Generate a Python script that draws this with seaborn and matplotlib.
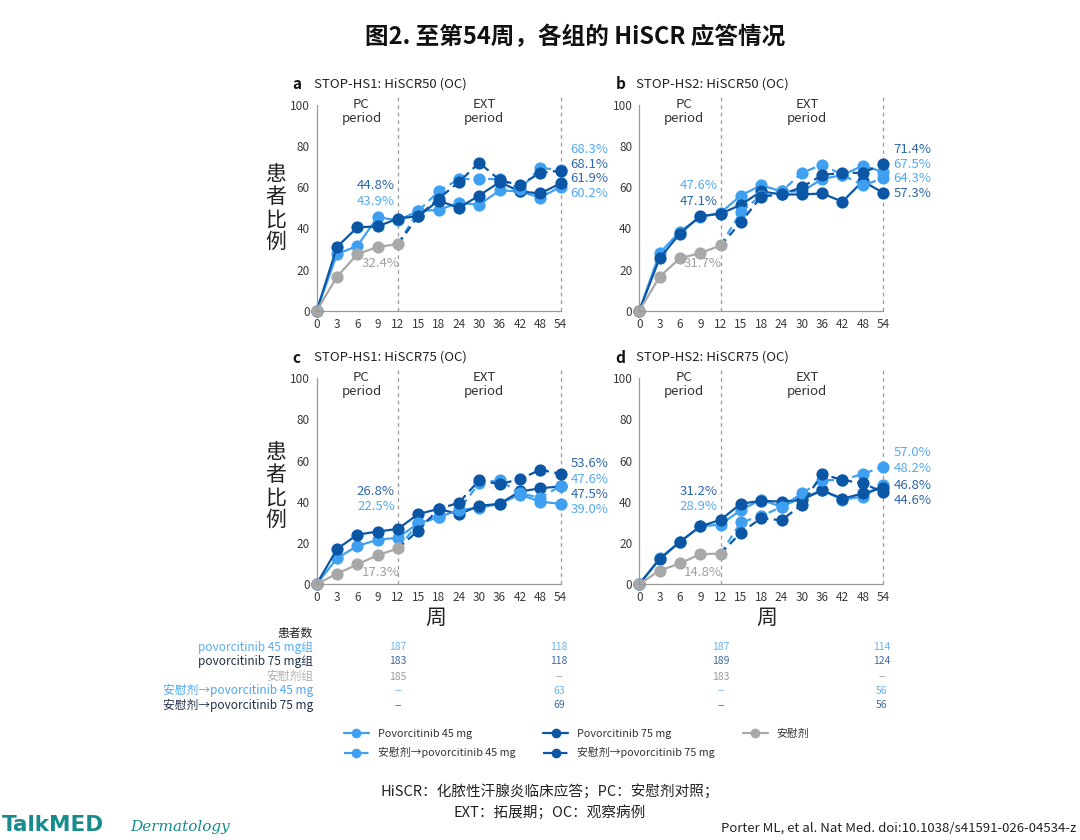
import matplotlib
matplotlib.use("Agg")
import matplotlib.pyplot as plt
from matplotlib.lines import Line2D
import seaborn as sns
import numpy as np

sns.set_theme(style="white")
plt.rcParams['font.family'] = ['Noto Sans CJK SC', 'DejaVu Sans']
plt.rcParams['axes.unicode_minus'] = False

# ---------------- data ----------------
weeks = ["0", "3", "6", "9", "12", "15", "18", "24", "30", "36", "42", "48", "54"]
ext_weeks = ["12", "15", "18", "24", "30", "36", "42", "48", "54"]
pc_weeks = ["0", "3", "6", "9", "12"]

# a: STOP-HS1 HiSCR50
a_45 = [0, 27.5, 31.5, 45.5, 43.9, 48.5, 49, 52.5, 51.5, 58.5, 58, 55, 60.2]
a_75 = [0, 31, 40.5, 41, 44.8, 46, 53.5, 50, 56, 62.5, 58, 57, 61.9]
a_pbo = [0, 16.5, 27.5, 31, 32.4]
a_p45 = [32.4, 48.5, 58, 64, 64, 64, 59, 69.5, 68.3]
a_p75 = [32.4, 46, 54.5, 62.5, 72, 63.5, 61, 67, 68.1]

# b: STOP-HS2 HiSCR50
b_45 = [0, 28, 38.5, 45.5, 47.6, 56, 61, 58, 58, 64, 66, 70.5, 67.5]
b_75 = [0, 25.5, 37.5, 46, 47.1, 51.5, 58, 56.5, 56.5, 57, 53, 63, 57.3]
b_pbo = [0, 16.5, 25.5, 28, 31.7]
b_p45 = [31.7, 48, 56, 58, 67, 71, 66, 61, 64.3]
b_p75 = [31.7, 43, 55.5, 56.5, 60, 66, 67, 67, 71.4]

# c: STOP-HS1 HiSCR75
c_45 = [0, 12.5, 18.5, 21.5, 22.5, 29.5, 32.5, 36, 37, 39, 43.5, 40, 39.0]
c_75 = [0, 17, 24, 25.5, 26.8, 34, 36.5, 34, 38, 39, 45, 46.5, 47.5]
c_pbo = [0, 5, 9.5, 14, 17.3]
c_p45 = [17.3, 29.5, 32.5, 36, 49, 50.5, 44, 42, 47.6]
c_p75 = [17.3, 26, 36.5, 39.5, 50.5, 48.5, 51, 55.5, 53.6]

# d: STOP-HS2 HiSCR75
d_45 = [0, 12.5, 20.5, 28, 28.9, 36, 41, 37.5, 42, 45.5, 41, 42.5, 48.2]
d_75 = [0, 12, 20.5, 28, 31.2, 39, 40.5, 40, 41, 45.5, 41.5, 44, 46.8]
d_pbo = [0, 6.5, 10, 14.5, 14.8]
d_p45 = [14.8, 30, 33, 37.5, 44, 50.5, 50.5, 53.5, 57.0]
d_p75 = [14.8, 25, 32, 31, 38.5, 53.5, 50.5, 49, 44.6]

panel_letters = ["a", "b", "c", "d"]
panel_titles = ["STOP-HS1: HiSCR50 (OC)", "STOP-HS2: HiSCR50 (OC)",
                "STOP-HS1: HiSCR75 (OC)", "STOP-HS2: HiSCR75 (OC)"]

# end labels (text, series-colour key)
end_labels = [
    [("68.3%", "l"), ("68.1%", "d"), ("61.9%", "d"), ("60.2%", "l")],
    [("71.4%", "d"), ("67.5%", "l"), ("64.3%", "l"), ("57.3%", "d")],
    [("53.6%", "d"), ("47.6%", "l"), ("47.5%", "d"), ("39.0%", "l")],
    [("57.0%", "l"), ("48.2%", "l"), ("46.8%", "d"), ("44.6%", "d")],
]
wk12_labels = [
    [("44.8%", "d"), ("43.9%", "l"), ("32.4%", "g")],
    [("47.6%", "l"), ("47.1%", "d"), ("31.7%", "g")],
    [("26.8%", "d"), ("22.5%", "l"), ("17.3%", "g")],
    [("31.2%", "d"), ("28.9%", "l"), ("14.8%", "g")],
]

row_labels = ["povorcitinib 45 mg组", "povorcitinib 75 mg组", "安慰剂组",
              "安慰剂→povorcitinib 45 mg", "安慰剂→povorcitinib 75 mg"]
n_hs1_w12 = ["187", "183", "185", "--", "--"]
n_hs1_w54 = ["118", "118", "--", "63", "69"]
n_hs2_w12 = ["187", "189", "183", "--", "--"]
n_hs2_w54 = ["114", "124", "--", "56", "56"]

# ---------------- style ----------------
C_L = "#3fa0f2"
C_D = "#0c57a5"
C_G = "#a8a8a8"
TXT = {"l": "#55aaf2", "d": "#2f67a8", "g": "#a0a0a0"}
ROW_LBL_C = ["#5aacf2", "#1f2f48", "#b0b0b0", "#4ea6f2", "#1f2f48"]
ROW_VAL_C = ["#6ab2f2", "#3e6aa0", "#9a9a9a", "#6ab2f2", "#3e6aa0"]

W, H = 1080, 840
fig = plt.figure(figsize=(W / 100, H / 100), dpi=100)

def fx(px):
    return px / W

def fy(py):
    return 1 - py / H

ax_w = fx(560.5) - fx(316.7)
YTOP = 105
unit = (310.7 - 105.0) / 100.0
ax_h = unit * YTOP / H
lefts = [316.7, 639.3, 316.7, 639.3]
bottoms = [310.7, 310.7, 584.0, 584.0]

data = [(a_45, a_75, a_pbo, a_p45, a_p75),
        (b_45, b_75, b_pbo, b_p45, b_p75),
        (c_45, c_75, c_pbo, c_p45, c_p75),
        (d_45, d_75, d_pbo, d_p45, d_p75)]

pos = {w: i for i, w in enumerate(weeks)}
lw = 1.6
ms = 8.8
dash = (0, (3.6, 2.4))

axes = []
for k in range(4):
    ax = fig.add_axes([fx(lefts[k]), fy(bottoms[k]), ax_w, ax_h])
    axes.append(ax)
    s45, s75, spbo, sp45, sp75 = data[k]
    xa = [pos[w] for w in weeks]
    xe = [pos[w] for w in ext_weeks]
    xp = [pos[w] for w in pc_weeks]
    common = dict(ax=ax, marker="o", markersize=ms, linewidth=lw,
                  markeredgewidth=0, clip_on=False, legend=False)
    sns.lineplot(x=xa, y=s45, color=C_L, **common)
    sns.lineplot(x=xa, y=s75, color=C_D, **common)
    sns.lineplot(x=xe, y=sp45, color=C_L, linestyle=dash,
                 markevery=list(range(1, len(xe))), **common)
    sns.lineplot(x=xe, y=sp75, color=C_D, linestyle=dash,
                 markevery=list(range(1, len(xe))), **common)
    sns.lineplot(x=xp, y=spbo, color=C_G, **common)

    ax.set_xlim(0, len(weeks) - 1)
    ax.set_ylim(0, YTOP)
    ax.set_xticks(range(len(weeks)))
    ax.set_xticklabels(weeks)
    ax.set_yticks([0, 20, 40, 60, 80, 100])
    ax.tick_params(axis="both", labelsize=8.5, colors="#3a3a3a", length=3,
                   width=0.8, pad=2, direction="out")
    ax.tick_params(axis="both", color="#999999")
    for sp in ["top", "right"]:
        ax.spines[sp].set_visible(False)
    for sp in ["left", "bottom"]:
        ax.spines[sp].set_color("#9a9a9a")
        ax.spines[sp].set_linewidth(0.9)
    ax.spines["left"].set_bounds(0, 100)
    ax.patch.set_alpha(0)
    for xv in [pos["12"], pos["54"]]:
        ax.axvline(xv, ymin=0, ymax=1, color="#9a9a9a", lw=0.9,
                   linestyle=(0, (3, 3)), zorder=0.5, clip_on=False)

    ax.text(2.2, 96.8, "PC\nperiod", ha="center", va="center", fontsize=9.5,
            color="#333333", linespacing=1.1)
    ax.text(8.25, 96.8, "EXT\nperiod", ha="center", va="center", fontsize=9.5,
            color="#333333", linespacing=1.1)

    # titles
    ty = bottoms[k] - 226.5
    fig.text(fx(lefts[k] - 24), fy(ty), panel_letters[k], fontsize=11,
             fontweight="bold", color="#111111", va="center", ha="left")
    fig.text(fx(lefts[k] - 3), fy(ty), panel_titles[k], fontsize=9.5,
             color="#222222", va="center", ha="left")

    # week-12 labels
    if k in (0, 1):
        wy = [61.0, 53.3, 23.0]
    else:
        wy = [45.0, 37.8, 5.8]
    for (t, c), yv in zip(wk12_labels[k][:2], wy[:2]):
        ax.text(3.85, yv, t, ha="right", va="center", fontsize=9.5,
                color=TXT[c])
    t, c = wk12_labels[k][2]
    ax.text(2.2, wy[2], t, ha="left", va="center", fontsize=9.5, color=TXT[c])

    # end labels
    if k in (0, 1):
        ey = [78.2, 71.2, 64.2, 57.2]
    elif k == 2:
        ey = [58.4, 50.9, 43.3, 36.0]
    else:
        ey = [63.9, 56.0, 48.1, 40.5]
    for (t, c), yv in zip(end_labels[k], ey):
        ax.text(12.5, yv, t, ha="left", va="center", fontsize=9.5,
                color=TXT[c], clip_on=False)

# y-axis labels
for cy in [208, 486]:
    fig.text(fx(276), fy(cy), "患\n者\n比\n例", fontsize=15, ha="center",
             va="center", color="#222222", linespacing=1.05)
# x-axis labels
for cx in [436, 767]:
    fig.text(fx(cx), fy(618), "周", fontsize=15, ha="center", va="center",
             color="#222222")

# title
fig.text(fx(575), fy(37), "图2. 至第54周，各组的 HiSCR 应答情况", fontsize=17,
         fontweight="bold", ha="center", va="center", color="#111111")

# table of patient numbers
fig.text(fx(313), fy(633), "患者数", fontsize=8.5, ha="right", va="center",
         color="#222222")
row_y = [647, 661.5, 676.5, 690.5, 705]
cols = [(398, n_hs1_w12), (559, n_hs1_w54), (721, n_hs2_w12), (882, n_hs2_w54)]
for i, yv in enumerate(row_y):
    fig.text(fx(313), fy(yv), row_labels[i], fontsize=8.5, ha="right",
             va="center", color=ROW_LBL_C[i])
    for cx, vals in cols:
        fig.text(fx(cx), fy(yv), vals[i], fontsize=7.5, ha="center",
                 va="center", color=ROW_VAL_C[i],
                 family=["DejaVu Sans"] if vals[i] == "--" else None)

# legend
handles = [
    Line2D([], [], color=C_L, marker="o", markersize=7, lw=lw, mew=0),
    Line2D([], [], color=C_L, marker="o", markersize=7, lw=lw, mew=0, linestyle=(0, (4.5, 2.0))),
    Line2D([], [], color=C_D, marker="o", markersize=7, lw=lw, mew=0),
    Line2D([], [], color=C_D, marker="o", markersize=7, lw=lw, mew=0, linestyle=(0, (4.5, 2.0))),
    Line2D([], [], color=C_G, marker="o", markersize=7, lw=lw, mew=0),
]
labels = ["Povorcitinib 45 mg", "安慰剂→povorcitinib 45 mg",
          "Povorcitinib 75 mg", "安慰剂→povorcitinib 75 mg", "安慰剂"]
fig.legend(handles, labels, ncol=3, loc="upper left",
           bbox_to_anchor=(fx(344), fy(729)), frameon=False, fontsize=7.8,
           handlelength=2.3, handletextpad=0.8, columnspacing=2.6,
           labelspacing=0.75, borderaxespad=0, borderpad=0,
           labelcolor="#333333")

# footer
fig.text(fx(550), fy(792), "HiSCR：化脓性汗腺炎临床应答；PC：安慰剂对照；",
         fontsize=10.5, ha="center", va="center", color="#222222")
fig.text(fx(550), fy(812), "EXT：拓展期；OC：观察病例", fontsize=10.5,
         ha="center", va="center", color="#222222")
fig.text(fx(2), fy(825), "TalkMED", fontsize=15.5, fontweight="bold",
         ha="left", va="center", color="#168c8c", family=["DejaVu Sans"])
fig.text(fx(130), fy(827), "Dermatology", fontsize=11, style="italic",
         ha="left", va="center", color="#168c8c", family=["DejaVu Serif"])
fig.text(fx(1076), fy(828), "Porter ML, et al. Nat Med. doi:10.1038/s41591-026-04534-z",
         fontsize=9.5, ha="right", va="center", color="#222222")

fig.savefig("out.png", dpi=100)
